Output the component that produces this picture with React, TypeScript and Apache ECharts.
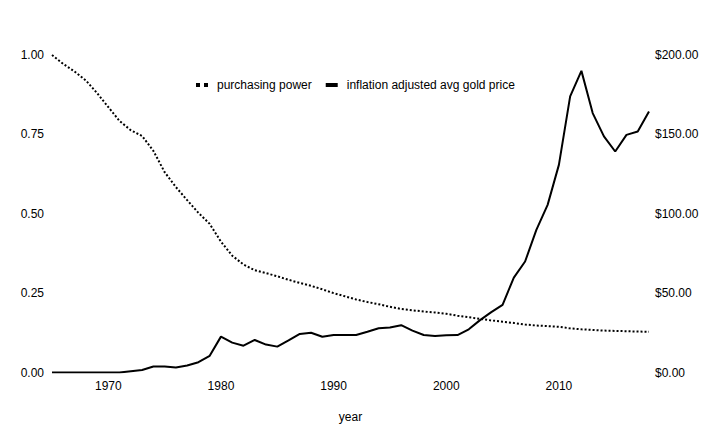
import React from 'react';
import * as echarts from 'echarts';

const years: number[] = [];
for (let y = 1965; y <= 2018; y++) years.push(y);

// purchasing power of a 1965 dollar
const purchasingPower = [
  1.0, 0.972, 0.948, 0.92, 0.88, 0.836, 0.792, 0.763, 0.745, 0.698,
  0.631, 0.584, 0.543, 0.503, 0.468, 0.412, 0.368, 0.34, 0.322, 0.313,
  0.303, 0.292, 0.282, 0.273, 0.262, 0.25, 0.24, 0.23, 0.222, 0.215,
  0.207, 0.2, 0.196, 0.192, 0.189, 0.185, 0.179, 0.174, 0.169, 0.164,
  0.16, 0.156, 0.151, 0.148, 0.146, 0.144, 0.139, 0.136, 0.134, 0.132,
  0.131, 0.13, 0.129, 0.128,
];

// inflation adjusted average gold price ($)
const goldPrice = [
  0, 0, 0, 0, 0, 0, 0, 0.8, 1.6, 3.8,
  3.8, 3.1, 4.4, 6.5, 10.5, 22.6, 18.8, 16.9, 20.5, 17.6,
  16.3, 20.2, 24.3, 25.0, 22.5, 23.6, 23.6, 23.6, 25.7, 27.9,
  28.3, 29.8, 26.4, 23.6, 23.0, 23.4, 23.6, 27.2, 33.0, 38.0,
  42.6, 59.8, 69.9, 89.8, 105.6, 130.8, 173.9, 190.0, 163.4, 148.7,
  139.2, 149.7, 151.8, 164.4,
];

const leftTicks = [0, 0.25, 0.5, 0.75, 1.0];
const rightTicks = [0, 50, 100, 150, 200];

const FONT = '"Liberation Sans", Arial, sans-serif';

const App: React.FC = () => {
  const chartRef = React.useRef<HTMLDivElement>(null);

  React.useEffect(() => {
    document.body.style.margin = '0';
    if (!chartRef.current) return;
    const chart = echarts.init(chartRef.current, undefined, { renderer: 'svg' });

    const labelStyle = { color: '#000', fontSize: 12, fontFamily: FONT };

    chart.setOption({
      animation: false,
      textStyle: { fontFamily: FONT, color: '#000' },
      legend: {
        left: 191,
        top: 74,
        itemWidth: 12,
        itemHeight: 4,
        itemGap: 14,
        textStyle: { ...labelStyle, padding: [0, 0, 0, 4] },
        data: [
          {
            name: 'purchasing power',
            icon: 'path://M0 0H3V3H0Z M6 0H9V3H6Z',
            itemStyle: { color: '#000' },
          },
          {
            name: 'inflation adjusted avg gold price',
            icon: 'rect',
            itemStyle: { color: '#000' },
          },
        ],
      },
      grid: { left: 52, right: 71, top: 55, bottom: 72.5, containLabel: false },
      xAxis: {
        type: 'value',
        min: years[0],
        max: years[years.length - 1],
        name: 'year',
        nameLocation: 'middle',
        nameGap: 38,
        nameTextStyle: { ...labelStyle },
        axisLine: { show: false },
        axisTick: { show: false },
        splitLine: { show: false },
        axisLabel: {
          ...labelStyle,
          margin: 7,
          formatter: (v: number) => (v % 10 === 0 ? String(v) : ''),
        },
      },
      yAxis: [
        {
          type: 'value',
          min: leftTicks[0],
          max: leftTicks[leftTicks.length - 1],
          interval: 0.25,
          axisLine: { show: false },
          axisTick: { show: false },
          splitLine: { show: false },
          axisLabel: { ...labelStyle, margin: 8, formatter: (v: number) => v.toFixed(2) },
        },
        {
          type: 'value',
          min: rightTicks[0],
          max: rightTicks[rightTicks.length - 1],
          interval: 50,
          axisLine: { show: false },
          axisTick: { show: false },
          splitLine: { show: false },
          axisLabel: { ...labelStyle, margin: 6, formatter: (v: number) => '$' + v.toFixed(2) },
        },
      ],
      series: [
        {
          name: 'purchasing power',
          type: 'line',
          yAxisIndex: 0,
          symbol: 'none',
          data: years.map((y, i) => [y, purchasingPower[i]]),
          lineStyle: { color: '#000', width: 2, type: [2, 2] },
          itemStyle: { color: '#000' },
        },
        {
          name: 'inflation adjusted avg gold price',
          type: 'line',
          yAxisIndex: 1,
          symbol: 'none',
          data: years.map((y, i) => [y, goldPrice[i]]),
          lineStyle: { color: '#000', width: 2 },
          itemStyle: { color: '#000' },
        },
      ],
    });

    return () => {
      chart.dispose();
    };
  }, []);

  return <div ref={chartRef} style={{ width: '720px', height: '445px' }} />;
};

export default App;
